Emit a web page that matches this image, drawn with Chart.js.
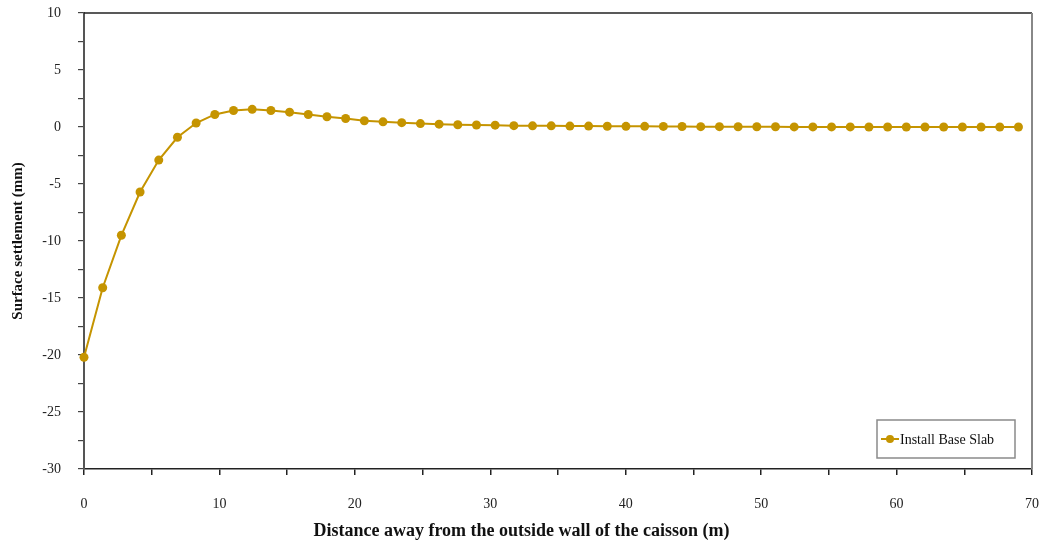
<!DOCTYPE html>
<html>
<head>
<meta charset="utf-8">
<script src="https://cdn.jsdelivr.net/npm/chart.js@4.4.1/dist/chart.umd.min.js"></script>
<style>
  html, body { margin: 0; padding: 0; background: #fff; }
  #wrap { width: 1043px; height: 544px; position: relative; }
</style>
</head>
<body>
<div id="wrap"><canvas id="settlement-canvas" width="1043" height="544"></canvas></div>
<script>
// 壁からの距離 (m)
const distance = [
  0, 1.38, 2.76, 4.14, 5.52, 6.9, 8.28, 9.66, 11.04, 12.42,
  13.8, 15.18, 16.56, 17.94, 19.32, 20.7, 22.08, 23.46, 24.84, 26.22,
  27.6, 28.98, 30.36, 31.74, 33.12, 34.5, 35.88, 37.26, 38.64, 40.02,
  41.4, 42.78, 44.16, 45.54, 46.92, 48.3, 49.68, 51.06, 52.44, 53.82,
  55.2, 56.58, 57.96, 59.34, 60.72, 62.1, 63.48, 64.86, 66.24, 67.62, 69
];
// 地表沈下量 (mm)
const settlement = [
  -20.2, -14.1, -9.5, -5.7, -2.9, -0.9, 0.35, 1.1, 1.45, 1.55,
  1.45, 1.3, 1.1, 0.9, 0.75, 0.55, 0.45, 0.38, 0.3, 0.25,
  0.2, 0.18, 0.16, 0.12, 0.1, 0.1, 0.08, 0.08, 0.07, 0.06,
  0.06, 0.05, 0.04, 0.03, 0.03, 0.02, 0.02, 0.02, 0.01, 0.01,
  0.01, 0.01, 0.0, 0.0, 0.0, 0.0, 0.0, 0.0, 0.0, 0.0, 0.0
];
const seriesLabel = 'Install Base Slab';
const xTitle = 'Distance away from the outside wall of the caisson (m)';
const yTitle = 'Surface settlement (mm)';

const lineColor = '#C59400';
const serif = '"Liberation Serif", "Times New Roman", serif';

// 枠線・x軸タイトル・凡例
const framePlugin = {
  id: 'frame',
  afterDraw(chart) {
    const ctx = chart.ctx;
    const a = chart.chartArea;
    ctx.save();
    // top
    ctx.strokeStyle = '#222';
    ctx.lineWidth = 1.5;
    ctx.beginPath();
    ctx.moveTo(a.left, a.top);
    ctx.lineTo(a.right, a.top);
    ctx.stroke();
    // right
    ctx.strokeStyle = '#888';
    ctx.lineWidth = 2;
    ctx.beginPath();
    ctx.moveTo(a.right, a.top);
    ctx.lineTo(a.right, a.bottom);
    ctx.stroke();

    // x軸タイトル (キャンバス中央に置く)
    ctx.fillStyle = '#111';
    ctx.font = 'bold 18px ' + serif;
    ctx.textAlign = 'center';
    ctx.textBaseline = 'middle';
    ctx.fillText(xTitle, chart.width / 2, 531);

    // legend box
    const bx = a.right - 155, by = a.bottom - 49, bw = 138, bh = 38;
    ctx.fillStyle = '#fff';
    ctx.fillRect(bx, by, bw, bh);
    ctx.strokeStyle = '#8a8a8a';
    ctx.lineWidth = 1.5;
    ctx.strokeRect(bx, by, bw, bh);
    const cy = by + bh / 2;
    ctx.strokeStyle = lineColor;
    ctx.lineWidth = 2;
    ctx.beginPath();
    ctx.moveTo(bx + 4, cy);
    ctx.lineTo(bx + 22, cy);
    ctx.stroke();
    ctx.fillStyle = lineColor;
    ctx.beginPath();
    ctx.arc(bx + 13, cy, 4, 0, Math.PI * 2);
    ctx.fill();
    ctx.fillStyle = '#111';
    ctx.font = '14px ' + serif;
    ctx.textAlign = 'left';
    ctx.fillText(seriesLabel, bx + 23, cy + 1);
    ctx.restore();
  }
};

let ctx = document.getElementById('settlement-canvas').getContext('2d');
const chart = new Chart(ctx, {
  type: 'line',
  data: {
    datasets: [{
      label: seriesLabel,
      data: distance.map((d, i) => ({ x: d, y: settlement[i] })),
      borderColor: lineColor,
      backgroundColor: lineColor,
      borderWidth: 2,
      pointRadius: 4.5,
      pointBorderWidth: 0,
      pointBackgroundColor: lineColor,
      fill: false,
      tension: 0,
      clip: false
    }]
  },
  options: {
    responsive: false,
    animation: false,
    layout: { padding: { top: 13, right: 11, left: 0, bottom: 0 } },
    plugins: {
      legend: { display: false },
      tooltip: { enabled: false }
    },
    scales: {
      x: {
        type: 'linear',
        min: 0,
        max: 70,
        afterFit(scale) {
          scale.height = 75;
          scale.paddingLeft = 0;
          scale.paddingRight = 0;
        },
        border: { color: '#222', width: 1.5 },
        grid: { drawOnChartArea: false, drawTicks: true, tickLength: 6, color: '#222', lineWidth: 1.5 },
        ticks: {
          stepSize: 5,
          autoSkip: false,
          maxRotation: 0,
          padding: 21,
          color: '#222',
          font: { family: serif, size: 14 },
          callback: v => (v % 10 === 0 ? v : '')
        },
        title: { display: false }
      },
      y: {
        type: 'linear',
        min: -30,
        max: 10,
        afterFit(scale) {
          scale.width = 84;
          scale.paddingTop = 0;
          scale.paddingBottom = 0;
        },
        border: { color: '#555', width: 2 },
        grid: { drawOnChartArea: false, drawTicks: true, tickLength: 6, color: '#444', lineWidth: 1.2 },
        ticks: {
          stepSize: 2.5,
          autoSkip: false,
          padding: 17,
          color: '#222',
          font: { family: serif, size: 14 },
          callback: v => (v % 5 === 0 ? v : '')
        },
        title: {
          display: true,
          text: yTitle,
          color: '#111',
          font: { family: serif, size: 15, weight: 'bold' },
          padding: { top: 9, bottom: 0 }
        }
      }
    }
  },
  plugins: [framePlugin]
});
</script>
</body>
</html>
